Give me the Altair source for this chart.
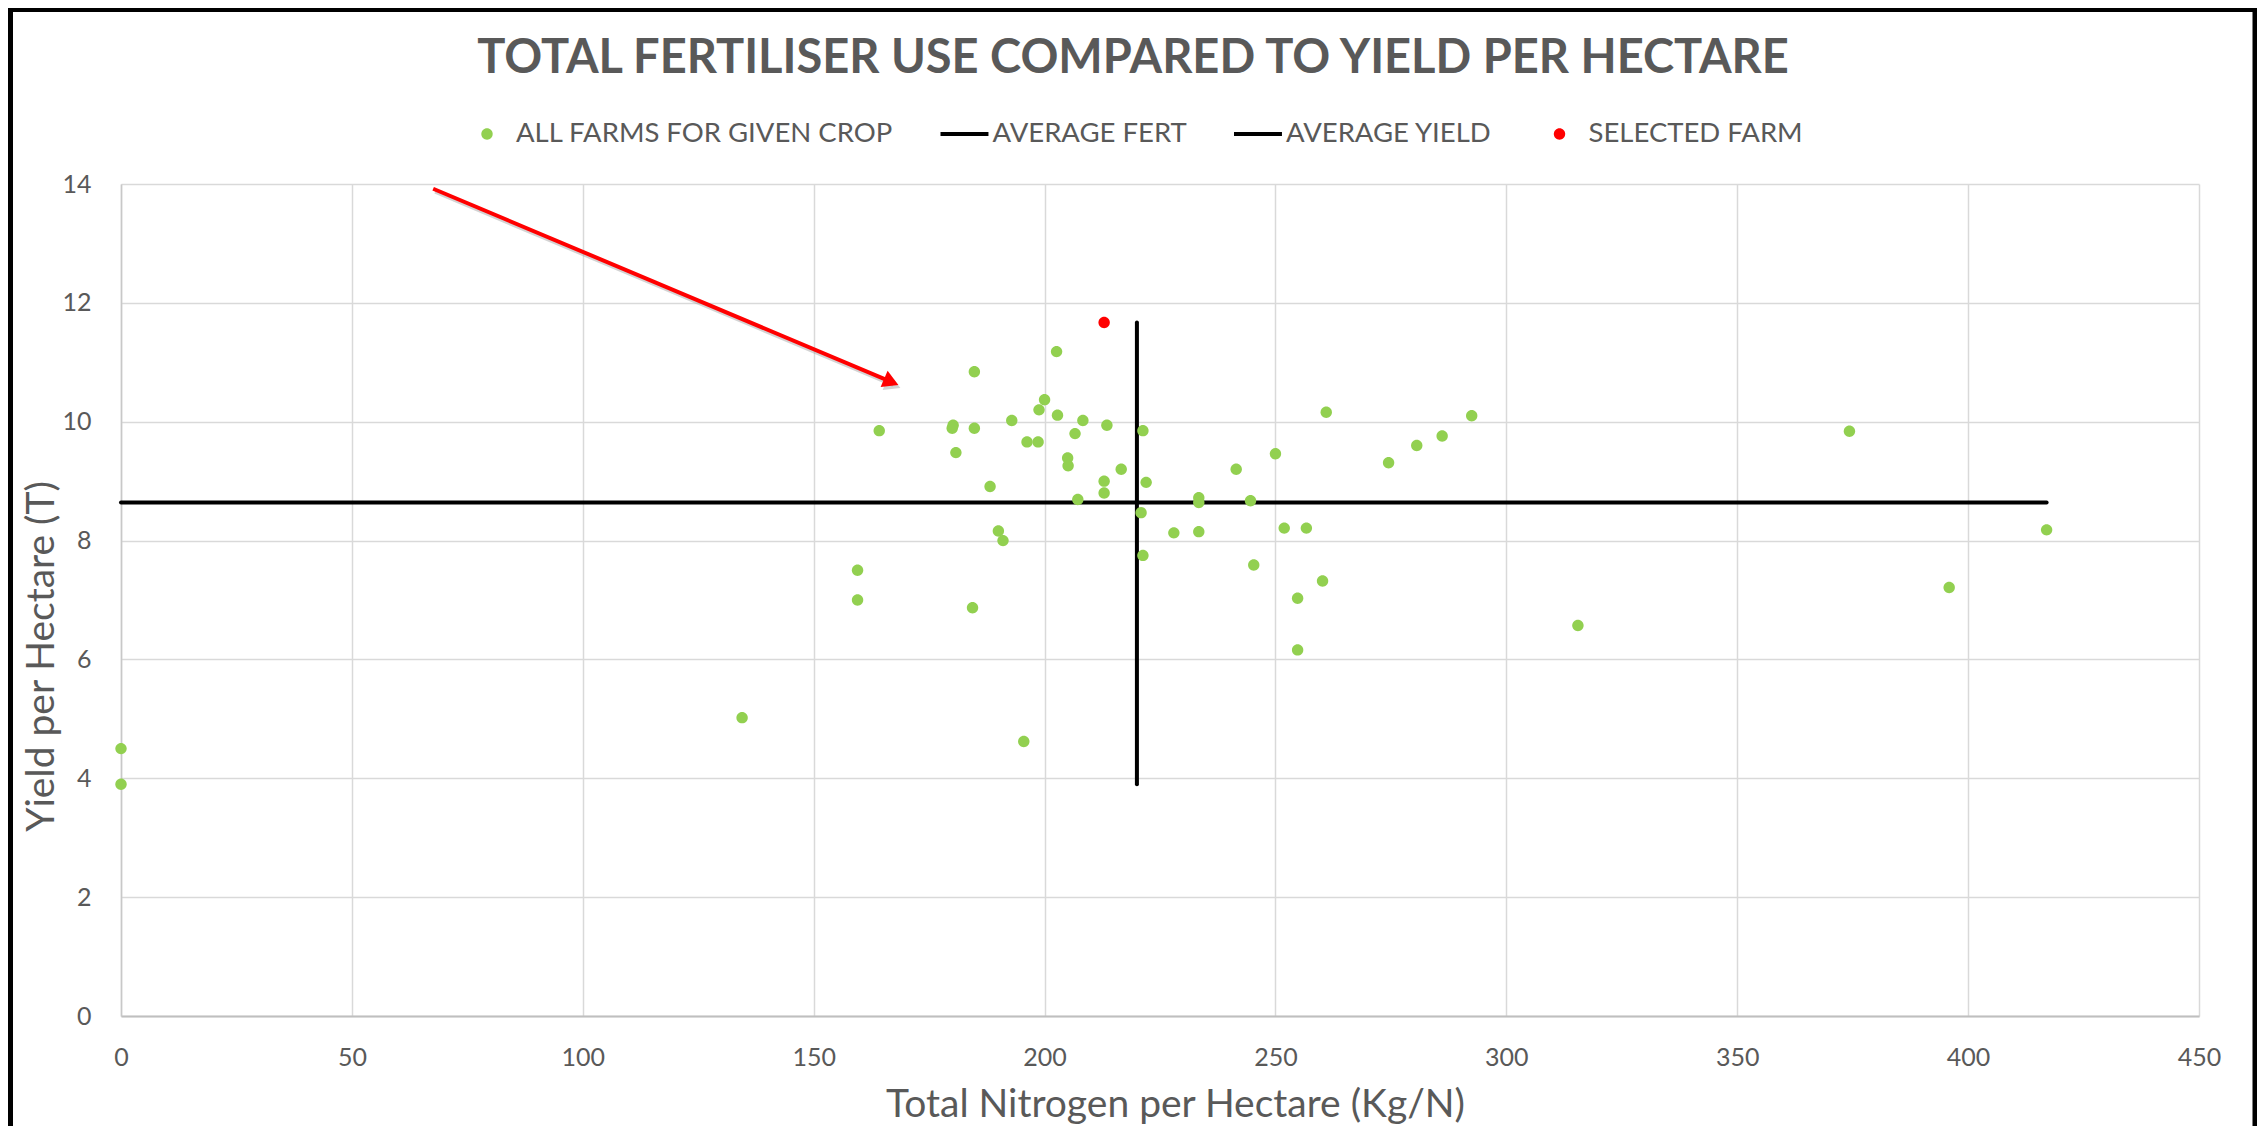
import altair as alt
import pandas as pd

# ---------------- data ----------------
FERT = [0, 0, 134.5, 159.5, 159.5, 164.2, 180.2, 180.0, 180.8, 184.8,
        184.8, 184.4, 188.2, 190.0, 191.0, 192.9, 195.5, 196.2, 198.6, 198.8,
        200.0, 202.6, 202.8, 205.0, 205.1, 206.6, 207.2, 208.3, 212.9, 212.9,
        213.5, 216.6, 221.3, 222.0, 220.9, 221.3, 228.0, 233.4, 233.4, 233.4,
        241.5, 244.6, 245.3, 250.0, 251.9, 254.8, 254.8, 256.7, 260.2, 261.0,
        274.5, 280.6, 286.1, 292.5, 315.5, 374.3, 395.9, 417.0]
YIELD = [4.5, 3.9, 5.02, 7.5, 7.0, 9.85, 9.94, 9.89, 9.48, 10.84,
         9.89, 6.87, 8.91, 8.16, 8.0, 10.02, 4.62, 9.66, 9.66, 10.2,
         10.37, 11.18, 10.11, 9.39, 9.26, 9.8, 8.69, 10.02, 9.0, 8.8,
         9.94, 9.2, 9.85, 8.98, 8.47, 7.75, 8.13, 8.72, 8.64, 8.15,
         9.2, 8.67, 7.59, 9.46, 8.21, 7.03, 6.16, 8.21, 7.32, 10.16,
         9.31, 9.6, 9.76, 10.1, 6.57, 9.84, 7.21, 8.18]
SEL_FERT = [212.9]
SEL_YIELD = [11.67]
AVG_FERT = 220.0
AVG_YIELD = 8.64
ARROW_FERT = [67.6, 166.8]
ARROW_YIELD = [13.92, 10.67]

SERIES = ["ALL FARMS FOR GIVEN CROP", "AVERAGE FERT", "AVERAGE YIELD", "SELECTED FARM"]
X_TICKS = [0, 50, 100, 150, 200, 250, 300, 350, 400, 450]
Y_TICKS = [0, 2, 4, 6, 8, 10, 12, 14]

TITLE = "TOTAL FERTILISER USE COMPARED TO YIELD PER HECTARE"
X_TITLE = "Total Nitrogen per Hectare (Kg/N)"
Y_TITLE = "Yield per Hectare (T)"

GREEN = "#92D050"
RED = "#FF0000"
GREY_TXT = "#595959"

# legend / marker glyphs: small dot inside a larger symbol box, and a line
# shifted towards its label (Excel-like legend spacing)
DOT = "M-0.271,0A0.271,0.271,0,1,1,0.271,0A0.271,0.271,0,1,1,-0.271,0Z"
DASH = "M-1,0L1.18,0"

assert len(FERT) == len(YIELD)

# ---------------- tables ----------------
pts = pd.DataFrame({
    "fert": FERT + SEL_FERT,
    "yield": YIELD + SEL_YIELD,
    "series": [SERIES[0]] * len(FERT) + [SERIES[3]] * len(SEL_FERT),
})
all_y = YIELD + SEL_YIELD
fert_line = pd.DataFrame({"fert": [AVG_FERT], "ylo": [min(all_y)], "yhi": [max(all_y)]})
yield_line = pd.DataFrame({"xlo": [min(FERT)], "xhi": [max(FERT)], "yield": [AVG_YIELD]})
arrow = pd.DataFrame({"fert": ARROW_FERT, "yield": ARROW_YIELD, "o": [0, 1]})
arrow_head = arrow.iloc[[1]]

# ---------------- scales / axes ----------------
XS = alt.Scale(domain=[0, 450], nice=False, zero=True)
YS = alt.Scale(domain=[0, 14], nice=False, zero=True)

XA = alt.Axis(values=X_TICKS, grid=True, gridColor="#D9D9D9", gridWidth=1.5,
              domain=True, domainColor="#BFBFBF", domainWidth=2,
              ticks=False, tickSize=0, format="d",
              labelFont="Lato", labelFontSize=25, labelColor=GREY_TXT,
              labelBaseline="middle", labelPadding=41, labelFlush=False,
              title=X_TITLE, titleFont="Lato", titleFontSize=39,
              titleFontWeight="normal", titleColor=GREY_TXT,
              titleBaseline="alphabetic", titleX=1054, titleY=100)
YA = alt.Axis(values=Y_TICKS, grid=True, gridColor="#D9D9D9", gridWidth=1.5,
              domain=True, domainColor="#C8C8C8", domainWidth=1.5,
              ticks=False, tickSize=0, format="d",
              labelFont="Lato", labelFontSize=25, labelColor=GREY_TXT,
              labelBaseline="middle", labelPadding=30, labelFlush=False,
              title=Y_TITLE, titleFont="Lato", titleFontSize=39,
              titleFontWeight="normal", titleColor=GREY_TXT,
              titleBaseline="alphabetic", titleAlign="center",
              titleX=-68, titleY=472)

LEG = alt.Legend(orient="none", legendX=343, legendY=-65, direction="horizontal",
                 title=None, labelFont="Lato", labelFontSize=27.5, labelColor=GREY_TXT,
                 labelLimit=1000, columnPadding=44.5, labelOffset=6, clipHeight=30,
                 symbolStrokeWidth=4, symbolOpacity=1)

# ---------------- layers ----------------
frame = alt.Chart(pd.DataFrame({"a": [0]})).mark_rule(color="black")
frame_left = frame.encode(x=alt.value(-111), y=alt.value(-176), y2=alt.value(942),
                          strokeWidth=alt.value(6))
frame_right = frame.encode(x=alt.value(2134), y=alt.value(-176), y2=alt.value(942),
                           strokeWidth=alt.value(5))
frame_top = frame.encode(x=alt.value(-113), x2=alt.value(2136), y=alt.value(-174),
                         strokeWidth=alt.value(4))

avg_fert = alt.Chart(fert_line).mark_rule(color="black", strokeWidth=4, strokeCap="round").encode(
    x=alt.X("fert:Q", scale=XS, axis=XA),
    y=alt.Y("ylo:Q", scale=YS, axis=YA),
    y2="yhi:Q",
)
avg_yield = alt.Chart(yield_line).mark_rule(color="black", strokeWidth=4, strokeCap="round").encode(
    x=alt.X("xlo:Q", scale=XS, axis=XA),
    x2="xhi:Q",
    y=alt.Y("yield:Q", scale=YS, axis=YA),
)

points = alt.Chart(pts).mark_point(filled=True, opacity=1).encode(
    x=alt.X("fert:Q", scale=XS, axis=XA),
    y=alt.Y("yield:Q", scale=YS, axis=YA),
    fill=alt.Fill("series:N", scale=alt.Scale(domain=SERIES,
                  range=[GREEN, "transparent", "transparent", RED]), legend=LEG),
    stroke=alt.Stroke("series:N", scale=alt.Scale(domain=SERIES,
                      range=["transparent", "black", "black", "transparent"]), legend=LEG),
    shape=alt.Shape("series:N", scale=alt.Scale(domain=SERIES,
                    range=[DOT, DASH, DASH, DOT]), legend=LEG),
    size=alt.Size("series:N", scale=alt.Scale(type="ordinal", domain=SERIES,
                  range=[1764, 1936, 1936, 1764]), legend=LEG),
    order=alt.Order("series:N"),
)

# soft drop shadow under the annotation arrow
arrow_shadow = alt.Chart(arrow).mark_line(color="#9E9E9E", strokeWidth=4, opacity=0.45,
                                          xOffset=2, yOffset=3).encode(
    x=alt.X("fert:Q", scale=XS, axis=XA),
    y=alt.Y("yield:Q", scale=YS, axis=YA),
    order="o:Q",
)
arrow_shadow_tip = alt.Chart(arrow_head).mark_point(shape="triangle-right", angle=23, size=320,
                                                    filled=True, color="#9E9E9E", opacity=0.45,
                                                    xOffset=2, yOffset=3).encode(
    x=alt.X("fert:Q", scale=XS, axis=XA),
    y=alt.Y("yield:Q", scale=YS, axis=YA),
)
arrow_line = alt.Chart(arrow).mark_line(color=RED, strokeWidth=4).encode(
    x=alt.X("fert:Q", scale=XS, axis=XA),
    y=alt.Y("yield:Q", scale=YS, axis=YA),
    order="o:Q",
)
arrow_tip = alt.Chart(arrow_head).mark_point(shape="triangle-right", angle=23, size=320,
                                             filled=True, color=RED, opacity=1).encode(
    x=alt.X("fert:Q", scale=XS, axis=XA),
    y=alt.Y("yield:Q", scale=YS, axis=YA),
)

chart = alt.layer(
    frame_left, frame_right, frame_top,
    avg_fert, avg_yield, points,
    arrow_shadow, arrow_shadow_tip, arrow_line, arrow_tip,
).properties(
    width=2078, height=832,
    title=alt.TitleParams(TITLE, font="Lato", fontSize=47, fontWeight="bold",
                          color=GREY_TXT, anchor="middle", frame="group",
                          dx=-27, offset=-115, baseline="alphabetic"),
    autosize=alt.AutoSizeParams(type="none"),
    padding={"left": 113, "top": 176, "right": 58, "bottom": 110},
    background="white",
).configure_view(stroke=None)

chart.save("out.html", embed_options={"renderer": "svg", "actions": False})
